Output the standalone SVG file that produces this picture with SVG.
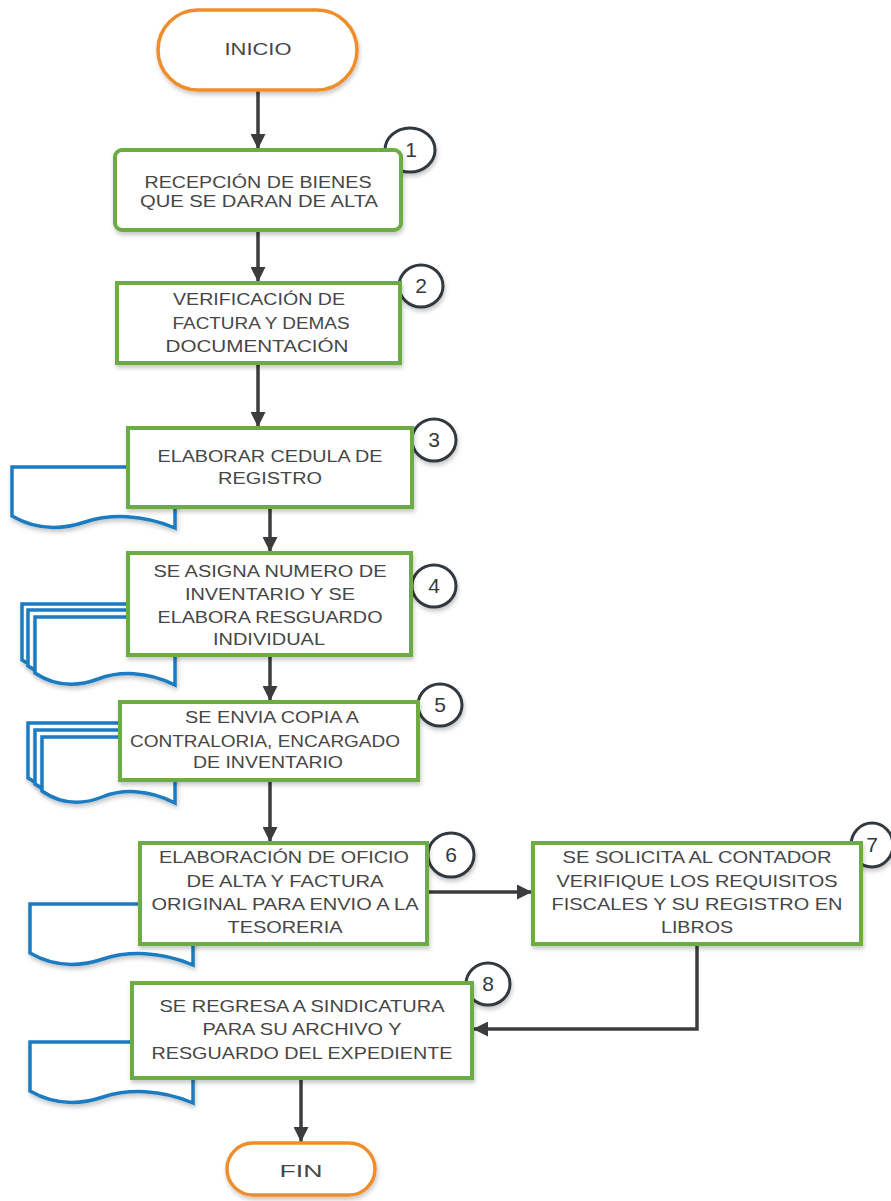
<svg xmlns="http://www.w3.org/2000/svg" width="891" height="1201" viewBox="0 0 891 1201">
  <style>
    .bg { fill: #ffffff; }
    .term { fill: #ffffff; stroke: #ef8d2b; stroke-width: 3.5; filter: url(#shadow); }
    .proc { fill: #ffffff; stroke: #6cac43; stroke-width: 4; filter: url(#shadow); }
    .doc { fill: #ffffff; stroke: #1b7cc2; stroke-width: 3.5; stroke-linejoin: miter; filter: url(#shadow); }
    .num { fill: #ffffff; stroke: #333840; stroke-width: 3; filter: url(#shadow); }
    .label { font-family: "Liberation Sans", Arial, sans-serif; font-size: 16px; fill: #464646; text-anchor: middle; }
    .label.big { font-size: 17px; }
    .numtxt { font-family: "Liberation Sans", Arial, sans-serif; font-size: 21px; fill: #333840; text-anchor: middle; }
    .conn { fill: none; stroke: #3c3c3e; stroke-width: 3.5; marker-end: url(#arrow); }
  </style>
  <defs>
    <filter id="shadow" x="-10%" y="-10%" width="125%" height="135%">
      <feDropShadow dx="1" dy="3" stdDeviation="2" flood-color="#000" flood-opacity="0.22"/>
    </filter>
    <marker id="arrow" viewBox="0 0 10 10" refX="10" refY="5" markerWidth="15" markerHeight="15" markerUnits="userSpaceOnUse" orient="auto">
      <path d="M0,0 L10,5 L0,10 z" fill="#3c3c3e"/>
    </marker>
  </defs>

  <rect class="bg" x="0" y="0" width="891" height="1201"/>

  <!-- document symbols (behind the process boxes) -->
  <g id="doc3">
    <path class="doc" d="M12,467 H175 V528 C142,514 110,514 85,522 C61,530 36,530 12,516 Z"/>
  </g>
  <g id="doc4">
    <path class="doc" d="M22,604 H162 V672 C134,658 106,658 85,666 C64,674 43,674 22,660 Z"/>
    <path class="doc" d="M28,610 H168 V678 C140,664 112,664 91,672 C70,680 49,680 28,666 Z"/>
    <path class="doc" d="M35,617 H175 V685 C147,671 119,671 98,679 C77,687 56,687 35,673 Z"/>
  </g>
  <g id="doc5">
    <path class="doc" d="M28,723 H161 V790 C134,776 108,776 88,784 C68,792 48,792 28,778 Z"/>
    <path class="doc" d="M35,730 H168 V796 C141,782 115,782 95,790 C75,798 55,798 35,784 Z"/>
    <path class="doc" d="M42,737 H175 V803 C148,789 122,789 102,797 C82,805 62,805 42,791 Z"/>
  </g>
  <g id="doc6">
    <path class="doc" d="M30,904 H193 V965 C160,951 128,951 103,959 C79,967 54,967 30,953 Z"/>
  </g>
  <g id="doc8">
    <path class="doc" d="M30,1042 H193 V1103 C160,1089 128,1089 103,1097 C79,1105 54,1105 30,1091 Z"/>
  </g>

  <!-- step number badges -->
  <g id="badges">
    <ellipse class="num" cx="410" cy="150" rx="25" ry="22"/>
    <text class="numtxt" x="411" y="157">1</text>
    <ellipse class="num" cx="421" cy="286" rx="22" ry="21"/>
    <text class="numtxt" x="421" y="293">2</text>
    <ellipse class="num" cx="434" cy="440" rx="22" ry="21"/>
    <text class="numtxt" x="434" y="447">3</text>
    <ellipse class="num" cx="434" cy="586" rx="22" ry="21"/>
    <text class="numtxt" x="434" y="593">4</text>
    <ellipse class="num" cx="440" cy="705" rx="22" ry="21"/>
    <text class="numtxt" x="440" y="712">5</text>
    <ellipse class="num" cx="451" cy="855" rx="23" ry="22"/>
    <text class="numtxt" x="451" y="862">6</text>
    <ellipse class="num" cx="872" cy="845" rx="21" ry="22"/>
    <text class="numtxt" x="872" y="852">7</text>
    <ellipse class="num" cx="488" cy="984" rx="22" ry="21"/>
    <text class="numtxt" x="488" y="991">8</text>
  </g>

  <!-- connectors -->
  <g id="connectors">
    <path class="conn" d="M258,90 V149"/>
    <path class="conn" d="M258,230 V282"/>
    <path class="conn" d="M258,363 V427"/>
    <path class="conn" d="M270,507 V552"/>
    <path class="conn" d="M270,655 V701"/>
    <path class="conn" d="M270,780 V842"/>
    <path class="conn" d="M427,892 H532"/>
    <path class="conn" d="M697,944 V1029 H473"/>
    <path class="conn" d="M301,1078 V1142"/>
  </g>

  <g id="inicio">
    <rect class="term" x="158" y="10" width="199" height="80" rx="40"/>
    <text class="label" x="258" y="55" textLength="67" lengthAdjust="spacingAndGlyphs">INICIO</text>
  </g>

  <g id="step1">
    <rect class="proc" x="115" y="150" width="286" height="80" rx="7"/>
    <text class="label" x="258" y="188" textLength="227" lengthAdjust="spacingAndGlyphs">RECEPCIÓN DE BIENES</text>
    <text class="label" x="259" y="207" textLength="238" lengthAdjust="spacingAndGlyphs">QUE SE DARAN DE ALTA</text>
  </g>

  <g id="step2">
    <rect class="proc" x="117" y="283" width="283" height="80"/>
    <text class="label" x="259" y="305" textLength="172" lengthAdjust="spacingAndGlyphs">VERIFICACIÓN DE</text>
    <text class="label" x="261" y="329" textLength="177" lengthAdjust="spacingAndGlyphs">FACTURA Y DEMAS</text>
    <text class="label" x="257" y="352" textLength="183" lengthAdjust="spacingAndGlyphs">DOCUMENTACIÓN</text>
  </g>

  <g id="step3">
    <rect class="proc" x="128" y="428" width="284" height="79"/>
    <text class="label" x="270" y="462" textLength="225" lengthAdjust="spacingAndGlyphs">ELABORAR CEDULA DE</text>
    <text class="label" x="270" y="484" textLength="104" lengthAdjust="spacingAndGlyphs">REGISTRO</text>
  </g>

  <g id="step4">
    <rect class="proc" x="128" y="553" width="283" height="102"/>
    <text class="label" x="270" y="577" textLength="233" lengthAdjust="spacingAndGlyphs">SE ASIGNA NUMERO DE</text>
    <text class="label" x="270" y="600" textLength="170" lengthAdjust="spacingAndGlyphs">INVENTARIO Y SE</text>
    <text class="label" x="270" y="623" textLength="225" lengthAdjust="spacingAndGlyphs">ELABORA RESGUARDO</text>
    <text class="label" x="269" y="645" textLength="112" lengthAdjust="spacingAndGlyphs">INDIVIDUAL</text>
  </g>

  <g id="step5">
    <rect class="proc" x="120" y="702" width="298" height="78"/>
    <text class="label" x="272" y="723" textLength="174" lengthAdjust="spacingAndGlyphs">SE ENVIA COPIA A</text>
    <text class="label" x="265" y="747" textLength="270" lengthAdjust="spacingAndGlyphs">CONTRALORIA, ENCARGADO</text>
    <text class="label" x="268" y="768" textLength="150" lengthAdjust="spacingAndGlyphs">DE INVENTARIO</text>
  </g>

  <g id="step6">
    <rect class="proc" x="140" y="843" width="287" height="101"/>
    <text class="label big" x="284" y="863" textLength="250" lengthAdjust="spacingAndGlyphs">ELABORACIÓN DE OFICIO</text>
    <text class="label big" x="285" y="887" textLength="197" lengthAdjust="spacingAndGlyphs">DE ALTA Y FACTURA</text>
    <text class="label big" x="285" y="910" textLength="267" lengthAdjust="spacingAndGlyphs">ORIGINAL PARA ENVIO A LA</text>
    <text class="label big" x="285" y="933" textLength="115" lengthAdjust="spacingAndGlyphs">TESORERIA</text>
  </g>

  <g id="step7">
    <rect class="proc" x="533" y="843" width="328" height="101"/>
    <text class="label big" x="697" y="863" textLength="269" lengthAdjust="spacingAndGlyphs">SE SOLICITA AL CONTADOR</text>
    <text class="label big" x="697" y="887" textLength="281" lengthAdjust="spacingAndGlyphs">VERIFIQUE LOS REQUISITOS</text>
    <text class="label big" x="697" y="910" textLength="291" lengthAdjust="spacingAndGlyphs">FISCALES Y SU REGISTRO EN</text>
    <text class="label big" x="697" y="933" textLength="72" lengthAdjust="spacingAndGlyphs">LIBROS</text>
  </g>

  <g id="step8">
    <rect class="proc" x="132" y="983" width="340" height="95"/>
    <text class="label big" x="302" y="1012" textLength="285" lengthAdjust="spacingAndGlyphs">SE REGRESA A SINDICATURA</text>
    <text class="label big" x="302" y="1035" textLength="199" lengthAdjust="spacingAndGlyphs">PARA SU ARCHIVO Y</text>
    <text class="label big" x="302" y="1059" textLength="301" lengthAdjust="spacingAndGlyphs">RESGUARDO DEL EXPEDIENTE</text>
  </g>

  <g id="fin">
    <rect class="term" x="227" y="1143" width="148" height="52" rx="26"/>
    <text class="label big" x="301" y="1177" textLength="43" lengthAdjust="spacingAndGlyphs">FIN</text>
  </g>
</svg>
